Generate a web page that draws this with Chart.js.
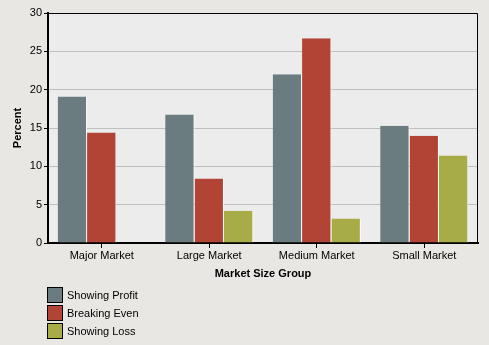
<!DOCTYPE html>
<html>
<head>
<meta charset="utf-8">
<script src="https://cdn.jsdelivr.net/npm/chart.js@4/dist/chart.umd.min.js"></script>
<style>
  html, body { margin: 0; padding: 0; background: #e9e7e3; }
  #wrap { position: relative; width: 489px; height: 345px; }
  #legend { position: absolute; left: 47px; top: 286px; font: 11px "Liberation Sans", Arial, sans-serif; color: #000; }
  #legend div { height: 18px; display: flex; align-items: center; }
  #legend span.box { width: 14px; height: 14px; border: 1px solid #000; margin-right: 4px; box-sizing: content-box; }
</style>
</head>
<body>
<div id="wrap">
  <canvas id="c" width="489" height="345"></canvas>
  <div id="legend"></div>
</div>
<script>
const categories = ["Major Market", "Large Market", "Medium Market", "Small Market"];
const seriesNames = ["Showing Profit", "Breaking Even", "Showing Loss"];
const showingProfit = [19.1, 16.75, 22.0, 15.3];
const breakingEven = [14.4, 8.4, 26.7, 14.0];
const showingLoss = [0, 4.2, 3.2, 11.4];
const seriesColors = ["#6b7c80", "#b24436", "#a8ac47"];
const yTicks = [0, 5, 10, 15, 20, 25, 30];

const font = { family: "'Liberation Sans', Arial, sans-serif", size: 11 };

// plot background + frame
const framePlugin = {
  id: "frame",
  beforeDraw(chart) {
    const { ctx, chartArea: a } = chart;
    ctx.save();
    ctx.fillStyle = "#ececec";
    ctx.fillRect(a.left, a.top, a.right - a.left, a.bottom - a.top);
    ctx.restore();
  },
  afterDraw(chart) {
    const { ctx, chartArea: a } = chart;
    ctx.save();
    ctx.strokeStyle = "#000";
    ctx.lineWidth = 1;
    ctx.beginPath();
    ctx.moveTo(a.left, a.top + 0.5);
    ctx.lineTo(a.right - 0.5, a.top + 0.5);
    ctx.lineTo(a.right - 0.5, a.bottom);
    ctx.stroke();
    ctx.restore();
  }
};

const allData = [showingProfit, breakingEven, showingLoss];

new Chart(document.getElementById("c"), {
  type: "bar",
  data: {
    labels: categories,
    datasets: seriesNames.map((name, i) => ({
      label: name,
      data: allData[i],
      backgroundColor: seriesColors[i],
      borderColor: "#ffffff",
      borderWidth: { left: 0, right: 1, top: 0, bottom: 0 },
      borderSkipped: false,
      categoryPercentage: 0.82,
      barPercentage: 1.0
    }))
  },
  options: {
    responsive: false,
    animation: false,
    layout: { padding: { left: 0, right: 11, top: 13, bottom: 64 } },
    plugins: {
      legend: { display: false },
      tooltip: { enabled: false }
    },
    scales: {
      x: {
        afterFit: (s) => { s.height = 38; },
        grid: { display: true, offset: false, drawOnChartArea: false, drawTicks: true, tickLength: 5, color: "#000" },
        border: { display: true, color: "#000", width: 2 },
        ticks: { color: "#000", font: font, padding: 1 },
        title: { display: true, text: "Market Size Group", color: "#000", font: { ...font, weight: "bold" }, padding: { top: 0, bottom: 0 } }
      },
      y: {
        min: 0,
        max: 30,
        afterFit: (s) => { s.width = 48; },
        afterBuildTicks: (s) => { s.ticks = yTicks.map(v => ({ value: v })); },
        grid: { color: "#bfbfbf", drawTicks: true, tickLength: 4, tickColor: "#000" },
        border: { display: true, color: "#000", width: 2 },
        ticks: { color: "#000", font: font, padding: 2 },
        title: { display: true, text: "Percent", color: "#000", font: { ...font, weight: "bold" }, padding: { top: 11, bottom: 0 } }
      }
    }
  },
  plugins: [framePlugin]
});

const legend = document.getElementById("legend");
seriesNames.forEach((name, i) => {
  const row = document.createElement("div");
  const box = document.createElement("span");
  box.className = "box";
  box.style.background = seriesColors[i];
  row.appendChild(box);
  row.appendChild(document.createTextNode(name));
  legend.appendChild(row);
});
</script>
</body>
</html>
